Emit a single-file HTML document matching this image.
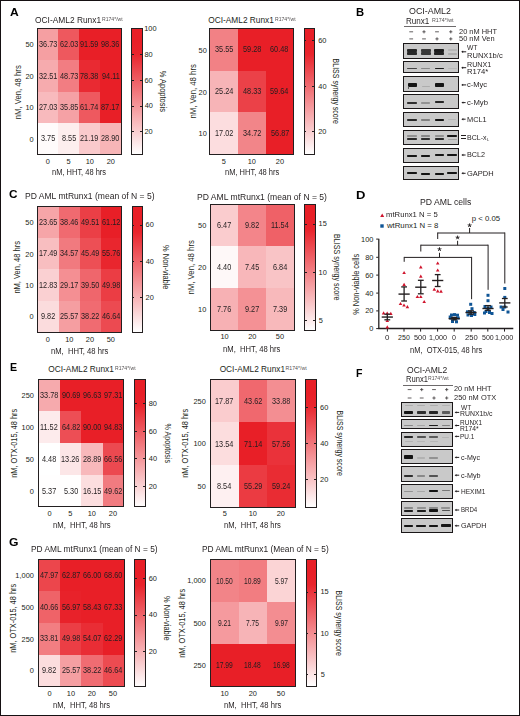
<!DOCTYPE html>
<html><head><meta charset="utf-8"><style>
html,body{margin:0;padding:0;background:#fff;}
body{width:520px;height:716px;position:relative;overflow:hidden;font-family:"Liberation Sans",sans-serif;color:#231f20;}
.t{position:absolute;white-space:nowrap;line-height:1;transform-origin:0 50%;}
.b{position:absolute;}
#frame{position:absolute;left:0;top:0;width:520px;height:716px;box-sizing:border-box;border:1px solid #151012;}
</style></head><body>
<div class="t" style="left:9.50px;top:6.17px;font-size:11.60px;font-weight:bold;color:#000;transform:scaleX(1.042);">A</div>
<div class="b" style="left:37.30px;top:28.95px;width:21.22px;height:31.64px;background:rgb(245,159,162);"></div>
<div class="b" style="left:58.22px;top:28.95px;width:21.22px;height:31.64px;background:rgb(238,88,94);"></div>
<div class="b" style="left:79.15px;top:28.95px;width:21.22px;height:31.64px;background:rgb(232,31,39);"></div>
<div class="b" style="left:100.08px;top:28.95px;width:21.22px;height:31.64px;background:rgb(232,31,39);"></div>
<div class="b" style="left:37.30px;top:60.29px;width:21.22px;height:31.64px;background:rgb(246,171,174);"></div>
<div class="b" style="left:58.22px;top:60.29px;width:21.22px;height:31.64px;background:rgb(242,125,130);"></div>
<div class="b" style="left:79.15px;top:60.29px;width:21.22px;height:31.64px;background:rgb(233,42,50);"></div>
<div class="b" style="left:100.08px;top:60.29px;width:21.22px;height:31.64px;background:rgb(232,31,39);"></div>
<div class="b" style="left:37.30px;top:91.62px;width:21.22px;height:31.64px;background:rgb(248,186,189);"></div>
<div class="b" style="left:58.22px;top:91.62px;width:21.22px;height:31.64px;background:rgb(245,161,165);"></div>
<div class="b" style="left:79.15px;top:91.62px;width:21.22px;height:31.64px;background:rgb(238,89,95);"></div>
<div class="b" style="left:100.08px;top:91.62px;width:21.22px;height:31.64px;background:rgb(232,31,39);"></div>
<div class="b" style="left:37.30px;top:122.96px;width:21.22px;height:31.64px;background:rgb(255,251,251);"></div>
<div class="b" style="left:58.22px;top:122.96px;width:21.22px;height:31.64px;background:rgb(253,238,238);"></div>
<div class="b" style="left:79.15px;top:122.96px;width:21.22px;height:31.64px;background:rgb(250,202,204);"></div>
<div class="b" style="left:100.08px;top:122.96px;width:21.22px;height:31.64px;background:rgb(247,181,183);"></div>
<div class="b" style="left:36.70px;top:28.35px;width:84.90px;height:126.55px;border:1.2px solid #231f20;box-sizing:border-box;"></div>
<div class="t" style="left:38.64px;top:39.99px;font-size:8.60px;transform:scaleX(0.850);">36.73</div>
<div class="t" style="left:59.51px;top:39.99px;font-size:8.60px;transform:scaleX(0.850);">62.03</div>
<div class="t" style="left:80.47px;top:39.99px;font-size:8.60px;transform:scaleX(0.850);">91.59</div>
<div class="t" style="left:101.38px;top:39.99px;font-size:8.60px;transform:scaleX(0.850);">98.36</div>
<div class="t" style="left:38.66px;top:71.53px;font-size:8.60px;transform:scaleX(0.850);">32.51</div>
<div class="t" style="left:59.62px;top:71.53px;font-size:8.60px;transform:scaleX(0.850);">48.73</div>
<div class="t" style="left:80.44px;top:71.53px;font-size:8.60px;transform:scaleX(0.850);">78.38</div>
<div class="t" style="left:101.67px;top:71.53px;font-size:8.60px;transform:scaleX(0.850);">94.11</div>
<div class="t" style="left:38.59px;top:102.67px;font-size:8.60px;transform:scaleX(0.850);">27.03</div>
<div class="t" style="left:59.57px;top:102.67px;font-size:8.60px;transform:scaleX(0.850);">35.85</div>
<div class="t" style="left:80.38px;top:102.67px;font-size:8.60px;transform:scaleX(0.850);">61.74</div>
<div class="t" style="left:101.44px;top:102.67px;font-size:8.60px;transform:scaleX(0.850);">87.17</div>
<div class="t" style="left:40.67px;top:134.01px;font-size:8.60px;transform:scaleX(0.850);">3.75</div>
<div class="t" style="left:61.58px;top:134.01px;font-size:8.60px;transform:scaleX(0.850);">8.55</div>
<div class="t" style="left:80.46px;top:134.01px;font-size:8.60px;transform:scaleX(0.850);">21.19</div>
<div class="t" style="left:101.35px;top:134.01px;font-size:8.60px;transform:scaleX(0.850);">28.90</div>
<div class="t" style="left:35.42px;top:15.83px;font-size:8.30px;transform:scaleX(1.010);">OCI-AML2 Runx1</div>
<div class="t" style="left:101.79px;top:16.53px;font-size:5.20px;color:#555152;transform:scaleX(0.983);">R174*/wt</div>
<div class="t" style="left:25.45px;top:41.30px;font-size:7.40px;">50</div>
<div class="t" style="left:25.44px;top:72.63px;font-size:7.40px;">20</div>
<div class="t" style="left:25.45px;top:103.97px;font-size:7.40px;">10</div>
<div class="t" style="left:29.55px;top:135.51px;font-size:7.40px;">0</div>
<div class="t" style="left:45.83px;top:157.68px;font-size:7.40px;">0</div>
<div class="t" style="left:66.45px;top:157.68px;font-size:7.40px;">5</div>
<div class="t" style="left:85.74px;top:157.68px;font-size:7.40px;">10</div>
<div class="t" style="left:106.64px;top:157.68px;font-size:7.40px;">20</div>
<div class="t" style="left:51.81px;top:168.07px;font-size:8.40px;transform:scaleX(0.894);">nM, HHT, 48 hrs</div>
<div class="t" style="left:-11.52px;top:87.52px;font-size:8.60px;width:60.23px;transform-origin:50% 50%;transform:rotate(-90deg) scaleX(0.899);">nM, Ven, 48 hrs</div>
<div class="b" style="left:131.60px;top:28.90px;width:10.35px;height:125.40px;background:linear-gradient(to top, rgb(255,255,255) 0%, rgb(252,228,229) 10%, rgb(249,200,202) 20%, rgb(247,173,176) 30%, rgb(244,146,150) 40%, rgb(241,118,123) 50%, rgb(238,91,97) 60%, rgb(235,64,71) 70%, rgb(233,36,44) 80%, rgb(232,31,39) 90%, rgb(232,31,39) 100%);"></div>
<div class="b" style="left:131.00px;top:28.30px;width:11.55px;height:126.60px;border:1.2px solid #231f20;box-sizing:border-box;"></div>
<div class="b" style="left:131.60px;top:28.40px;width:2.00px;height:1.00px;background:#231f20;"></div>
<div class="b" style="left:139.95px;top:28.40px;width:2.00px;height:1.00px;background:#231f20;"></div>
<div class="t" style="left:144.25px;top:25.18px;font-size:7.40px;">100</div>
<div class="b" style="left:131.60px;top:54.10px;width:2.00px;height:1.00px;background:#231f20;"></div>
<div class="b" style="left:139.95px;top:54.10px;width:2.00px;height:1.00px;background:#231f20;"></div>
<div class="t" style="left:144.50px;top:50.88px;font-size:7.40px;">80</div>
<div class="b" style="left:131.60px;top:79.90px;width:2.00px;height:1.00px;background:#231f20;"></div>
<div class="b" style="left:139.95px;top:79.90px;width:2.00px;height:1.00px;background:#231f20;"></div>
<div class="t" style="left:144.43px;top:76.68px;font-size:7.40px;">60</div>
<div class="b" style="left:131.60px;top:105.50px;width:2.00px;height:1.00px;background:#231f20;"></div>
<div class="b" style="left:139.95px;top:105.50px;width:2.00px;height:1.00px;background:#231f20;"></div>
<div class="t" style="left:144.65px;top:102.28px;font-size:7.40px;">40</div>
<div class="b" style="left:131.60px;top:131.20px;width:2.00px;height:1.00px;background:#231f20;"></div>
<div class="b" style="left:139.95px;top:131.20px;width:2.00px;height:1.00px;background:#231f20;"></div>
<div class="t" style="left:144.43px;top:127.98px;font-size:7.40px;">20</div>
<div class="t" style="left:139.13px;top:87.49px;font-size:8.60px;width:47.33px;transform-origin:50% 50%;transform:rotate(90deg) scaleX(0.873);">% Apoptosis</div>
<div class="b" style="left:210.00px;top:28.90px;width:28.17px;height:42.03px;background:rgb(242,129,133);"></div>
<div class="b" style="left:237.87px;top:28.90px;width:28.17px;height:42.03px;background:rgb(232,31,39);"></div>
<div class="b" style="left:265.73px;top:28.90px;width:28.17px;height:42.03px;background:rgb(232,31,39);"></div>
<div class="b" style="left:210.00px;top:70.63px;width:28.17px;height:42.03px;background:rgb(247,180,183);"></div>
<div class="b" style="left:237.87px;top:70.63px;width:28.17px;height:42.03px;background:rgb(235,65,72);"></div>
<div class="b" style="left:265.73px;top:70.63px;width:28.17px;height:42.03px;background:rgb(232,31,39);"></div>
<div class="b" style="left:210.00px;top:112.37px;width:28.17px;height:42.03px;background:rgb(252,221,223);"></div>
<div class="b" style="left:237.87px;top:112.37px;width:28.17px;height:42.03px;background:rgb(242,133,137);"></div>
<div class="b" style="left:265.73px;top:112.37px;width:28.17px;height:42.03px;background:rgb(232,31,39);"></div>
<div class="b" style="left:209.40px;top:28.30px;width:84.80px;height:126.40px;border:1.2px solid #231f20;box-sizing:border-box;"></div>
<div class="t" style="left:214.81px;top:45.14px;font-size:8.60px;transform:scaleX(0.850);">35.55</div>
<div class="t" style="left:242.66px;top:45.14px;font-size:8.60px;transform:scaleX(0.850);">59.28</div>
<div class="t" style="left:270.49px;top:45.14px;font-size:8.60px;transform:scaleX(0.850);">60.48</div>
<div class="t" style="left:214.70px;top:86.87px;font-size:8.60px;transform:scaleX(0.850);">25.24</div>
<div class="t" style="left:242.74px;top:86.87px;font-size:8.60px;transform:scaleX(0.850);">48.33</div>
<div class="t" style="left:270.47px;top:86.87px;font-size:8.60px;transform:scaleX(0.850);">59.64</div>
<div class="t" style="left:214.70px;top:128.61px;font-size:8.60px;transform:scaleX(0.850);">17.02</div>
<div class="t" style="left:242.72px;top:128.61px;font-size:8.60px;transform:scaleX(0.850);">34.72</div>
<div class="t" style="left:270.57px;top:128.61px;font-size:8.60px;transform:scaleX(0.850);">56.87</div>
<div class="t" style="left:208.32px;top:16.33px;font-size:8.30px;">OCI-AML2 Runx1</div>
<div class="t" style="left:274.59px;top:16.53px;font-size:5.20px;color:#555152;transform:scaleX(0.978);">R174*/wt</div>
<div class="t" style="left:198.55px;top:46.64px;font-size:7.40px;">50</div>
<div class="t" style="left:198.54px;top:88.53px;font-size:7.40px;">20</div>
<div class="t" style="left:198.54px;top:130.11px;font-size:7.40px;">10</div>
<div class="t" style="left:221.75px;top:157.58px;font-size:7.40px;">5</div>
<div class="t" style="left:247.65px;top:157.58px;font-size:7.40px;">10</div>
<div class="t" style="left:275.84px;top:157.58px;font-size:7.40px;">20</div>
<div class="t" style="left:224.71px;top:167.77px;font-size:8.40px;transform:scaleX(0.897);">nM, HHT, 48 hrs</div>
<div class="t" style="left:162.88px;top:87.02px;font-size:8.60px;width:60.23px;transform-origin:50% 50%;transform:rotate(-90deg) scaleX(0.904);">nM, Ven, 48 hrs</div>
<div class="b" style="left:304.40px;top:28.80px;width:10.00px;height:125.30px;background:linear-gradient(to top, rgb(255,255,255) 0%, rgb(252,228,229) 10%, rgb(249,200,202) 20%, rgb(247,173,176) 30%, rgb(244,146,150) 40%, rgb(241,118,123) 50%, rgb(238,91,97) 60%, rgb(235,64,71) 70%, rgb(233,36,44) 80%, rgb(232,31,39) 90%, rgb(232,31,39) 100%);"></div>
<div class="b" style="left:303.80px;top:28.20px;width:11.20px;height:126.50px;border:1.2px solid #231f20;box-sizing:border-box;"></div>
<div class="b" style="left:304.40px;top:39.60px;width:2.00px;height:1.00px;background:#231f20;"></div>
<div class="b" style="left:312.40px;top:39.60px;width:2.00px;height:1.00px;background:#231f20;"></div>
<div class="t" style="left:318.13px;top:36.53px;font-size:7.40px;">60</div>
<div class="b" style="left:304.40px;top:85.70px;width:2.00px;height:1.00px;background:#231f20;"></div>
<div class="b" style="left:312.40px;top:85.70px;width:2.00px;height:1.00px;background:#231f20;"></div>
<div class="t" style="left:318.35px;top:82.53px;font-size:7.40px;">40</div>
<div class="b" style="left:304.40px;top:131.30px;width:2.00px;height:1.00px;background:#231f20;"></div>
<div class="b" style="left:312.40px;top:131.30px;width:2.00px;height:1.00px;background:#231f20;"></div>
<div class="t" style="left:318.13px;top:128.08px;font-size:7.40px;">20</div>
<div class="t" style="left:296.05px;top:86.97px;font-size:8.60px;width:80.30px;transform-origin:50% 50%;transform:rotate(90deg) scaleX(0.814);">BLISS synergy score</div>
<div class="t" style="left:9.03px;top:188.52px;font-size:11.30px;font-weight:bold;color:#000;transform:scaleX(1.040);">C</div>
<div class="b" style="left:37.50px;top:206.65px;width:21.30px;height:31.71px;background:rgb(246,165,168);"></div>
<div class="b" style="left:58.50px;top:206.65px;width:21.30px;height:31.71px;background:rgb(240,106,112);"></div>
<div class="b" style="left:79.50px;top:206.65px;width:21.30px;height:31.71px;background:rgb(235,63,70);"></div>
<div class="b" style="left:100.50px;top:206.65px;width:21.30px;height:31.71px;background:rgb(232,31,39);"></div>
<div class="b" style="left:37.50px;top:238.06px;width:21.30px;height:31.71px;background:rgb(248,190,192);"></div>
<div class="b" style="left:58.50px;top:238.06px;width:21.30px;height:31.71px;background:rgb(241,122,127);"></div>
<div class="b" style="left:79.50px;top:238.06px;width:21.30px;height:31.71px;background:rgb(237,79,85);"></div>
<div class="b" style="left:100.50px;top:238.06px;width:21.30px;height:31.71px;background:rgb(233,38,46);"></div>
<div class="b" style="left:37.50px;top:269.48px;width:21.30px;height:31.71px;background:rgb(250,208,210);"></div>
<div class="b" style="left:58.50px;top:269.48px;width:21.30px;height:31.71px;background:rgb(244,143,147);"></div>
<div class="b" style="left:79.50px;top:269.48px;width:21.30px;height:31.71px;background:rgb(239,102,108);"></div>
<div class="b" style="left:100.50px;top:269.48px;width:21.30px;height:31.71px;background:rgb(235,61,68);"></div>
<div class="b" style="left:37.50px;top:300.89px;width:21.30px;height:31.71px;background:rgb(251,220,221);"></div>
<div class="b" style="left:58.50px;top:300.89px;width:21.30px;height:31.71px;background:rgb(245,158,161);"></div>
<div class="b" style="left:79.50px;top:300.89px;width:21.30px;height:31.71px;background:rgb(240,107,113);"></div>
<div class="b" style="left:100.50px;top:300.89px;width:21.30px;height:31.71px;background:rgb(236,74,81);"></div>
<div class="b" style="left:36.90px;top:206.05px;width:85.20px;height:126.85px;border:1.2px solid #231f20;box-sizing:border-box;"></div>
<div class="t" style="left:38.83px;top:217.73px;font-size:8.60px;transform:scaleX(0.850);">23.65</div>
<div class="t" style="left:59.88px;top:217.73px;font-size:8.60px;transform:scaleX(0.850);">38.46</div>
<div class="t" style="left:80.95px;top:217.73px;font-size:8.60px;transform:scaleX(0.850);">49.51</div>
<div class="t" style="left:101.86px;top:217.73px;font-size:8.60px;transform:scaleX(0.850);">61.12</div>
<div class="t" style="left:38.75px;top:249.14px;font-size:8.60px;transform:scaleX(0.850);">17.49</div>
<div class="t" style="left:59.92px;top:249.14px;font-size:8.60px;transform:scaleX(0.850);">34.57</div>
<div class="t" style="left:80.95px;top:249.14px;font-size:8.60px;transform:scaleX(0.850);">45.49</div>
<div class="t" style="left:101.86px;top:249.14px;font-size:8.60px;transform:scaleX(0.850);">55.76</div>
<div class="t" style="left:38.73px;top:280.56px;font-size:8.60px;transform:scaleX(0.850);">12.83</div>
<div class="t" style="left:59.86px;top:280.56px;font-size:8.60px;transform:scaleX(0.850);">29.17</div>
<div class="t" style="left:80.86px;top:280.56px;font-size:8.60px;transform:scaleX(0.850);">39.50</div>
<div class="t" style="left:101.94px;top:280.56px;font-size:8.60px;transform:scaleX(0.850);">49.98</div>
<div class="t" style="left:40.91px;top:311.97px;font-size:8.60px;transform:scaleX(0.850);">9.82</div>
<div class="t" style="left:59.86px;top:311.97px;font-size:8.60px;transform:scaleX(0.850);">25.57</div>
<div class="t" style="left:80.92px;top:311.97px;font-size:8.60px;transform:scaleX(0.850);">38.22</div>
<div class="t" style="left:101.88px;top:311.97px;font-size:8.60px;transform:scaleX(0.850);">46.64</div>
<div class="t" style="left:24.72px;top:192.23px;font-size:8.30px;transform:scaleX(1.030);">PD AML mtRunx1 (mean of N = 5)</div>
<div class="t" style="left:25.34px;top:219.03px;font-size:7.40px;">50</div>
<div class="t" style="left:25.34px;top:250.55px;font-size:7.40px;">20</div>
<div class="t" style="left:25.34px;top:281.86px;font-size:7.40px;">10</div>
<div class="t" style="left:29.45px;top:313.27px;font-size:7.40px;">0</div>
<div class="t" style="left:45.63px;top:335.53px;font-size:7.40px;">0</div>
<div class="t" style="left:65.14px;top:335.53px;font-size:7.40px;">10</div>
<div class="t" style="left:85.84px;top:335.53px;font-size:7.40px;">20</div>
<div class="t" style="left:106.67px;top:335.53px;font-size:7.40px;">50</div>
<div class="t" style="left:50.70px;top:346.97px;font-size:8.40px;transform:scaleX(0.912);">nM,&nbsp; HHT, 48 hrs</div>
<div class="t" style="left:-13.32px;top:263.12px;font-size:8.60px;width:60.23px;transform-origin:50% 50%;transform:rotate(-90deg) scaleX(0.872);">nM, Ven, 48 hrs</div>
<div class="b" style="left:132.10px;top:206.80px;width:10.25px;height:125.50px;background:linear-gradient(to top, rgb(255,255,255) 0%, rgb(252,228,229) 10%, rgb(249,200,202) 20%, rgb(247,173,176) 30%, rgb(244,146,150) 40%, rgb(241,118,123) 50%, rgb(238,91,97) 60%, rgb(235,64,71) 70%, rgb(233,36,44) 80%, rgb(232,31,39) 90%, rgb(232,31,39) 100%);"></div>
<div class="b" style="left:131.50px;top:206.20px;width:11.45px;height:126.70px;border:1.2px solid #231f20;box-sizing:border-box;"></div>
<div class="b" style="left:132.10px;top:224.50px;width:2.00px;height:1.00px;background:#231f20;"></div>
<div class="b" style="left:140.35px;top:224.50px;width:2.00px;height:1.00px;background:#231f20;"></div>
<div class="t" style="left:145.53px;top:221.28px;font-size:7.40px;">60</div>
<div class="b" style="left:132.10px;top:261.00px;width:2.00px;height:1.00px;background:#231f20;"></div>
<div class="b" style="left:140.35px;top:261.00px;width:2.00px;height:1.00px;background:#231f20;"></div>
<div class="t" style="left:145.75px;top:257.78px;font-size:7.40px;">40</div>
<div class="b" style="left:132.10px;top:297.10px;width:2.00px;height:1.00px;background:#231f20;"></div>
<div class="b" style="left:140.35px;top:297.10px;width:2.00px;height:1.00px;background:#231f20;"></div>
<div class="t" style="left:145.53px;top:293.88px;font-size:7.40px;">20</div>
<div class="t" style="left:140.23px;top:262.63px;font-size:8.60px;width:51.15px;transform-origin:50% 50%;transform:rotate(90deg) scaleX(0.870);">% Non-viable</div>
<div class="b" style="left:210.40px;top:204.60px;width:28.17px;height:42.10px;background:rgb(250,204,206);"></div>
<div class="b" style="left:238.27px;top:204.60px;width:28.17px;height:42.10px;background:rgb(243,133,138);"></div>
<div class="b" style="left:266.13px;top:204.60px;width:28.17px;height:42.10px;background:rgb(239,97,103);"></div>
<div class="b" style="left:210.40px;top:246.40px;width:28.17px;height:42.10px;background:rgb(254,248,248);"></div>
<div class="b" style="left:238.27px;top:246.40px;width:28.17px;height:42.10px;background:rgb(248,183,186);"></div>
<div class="b" style="left:266.13px;top:246.40px;width:28.17px;height:42.10px;background:rgb(249,196,198);"></div>
<div class="b" style="left:210.40px;top:288.20px;width:28.17px;height:42.10px;background:rgb(247,177,180);"></div>
<div class="b" style="left:238.27px;top:288.20px;width:28.17px;height:42.10px;background:rgb(244,145,149);"></div>
<div class="b" style="left:266.13px;top:288.20px;width:28.17px;height:42.10px;background:rgb(248,185,187);"></div>
<div class="b" style="left:209.80px;top:204.00px;width:84.80px;height:126.60px;border:1.2px solid #231f20;box-sizing:border-box;"></div>
<div class="t" style="left:217.22px;top:220.87px;font-size:8.60px;transform:scaleX(0.850);">6.47</div>
<div class="t" style="left:245.11px;top:220.87px;font-size:8.60px;transform:scaleX(0.850);">9.82</div>
<div class="t" style="left:271.02px;top:220.87px;font-size:8.60px;transform:scaleX(0.850);">11.54</div>
<div class="t" style="left:217.28px;top:262.67px;font-size:8.60px;transform:scaleX(0.850);">4.40</div>
<div class="t" style="left:245.05px;top:262.67px;font-size:8.60px;transform:scaleX(0.850);">7.45</div>
<div class="t" style="left:272.87px;top:262.67px;font-size:8.60px;transform:scaleX(0.850);">6.84</div>
<div class="t" style="left:217.19px;top:304.52px;font-size:8.60px;transform:scaleX(0.850);">7.76</div>
<div class="t" style="left:245.11px;top:304.52px;font-size:8.60px;transform:scaleX(0.850);">9.27</div>
<div class="t" style="left:272.94px;top:304.52px;font-size:8.60px;transform:scaleX(0.850);">7.39</div>
<div class="t" style="left:197.31px;top:192.53px;font-size:8.30px;transform:scaleX(1.033);">PD AML mtRunx1 (mean of N = 5)</div>
<div class="t" style="left:198.05px;top:222.18px;font-size:7.40px;">50</div>
<div class="t" style="left:198.04px;top:263.98px;font-size:7.40px;">20</div>
<div class="t" style="left:198.04px;top:305.78px;font-size:7.40px;">10</div>
<div class="t" style="left:220.44px;top:333.18px;font-size:7.40px;">10</div>
<div class="t" style="left:248.24px;top:333.18px;font-size:7.40px;">20</div>
<div class="t" style="left:275.87px;top:333.18px;font-size:7.40px;">50</div>
<div class="t" style="left:223.30px;top:345.07px;font-size:8.40px;transform:scaleX(0.914);">nM,&nbsp; HHT, 48 hrs</div>
<div class="t" style="left:161.18px;top:263.02px;font-size:8.60px;width:60.23px;transform-origin:50% 50%;transform:rotate(-90deg) scaleX(0.903);">nM, Ven, 48 hrs</div>
<div class="b" style="left:304.60px;top:204.60px;width:10.30px;height:125.40px;background:linear-gradient(to top, rgb(255,255,255) 0%, rgb(252,228,229) 10%, rgb(249,200,202) 20%, rgb(247,173,176) 30%, rgb(244,146,150) 40%, rgb(241,118,123) 50%, rgb(238,91,97) 60%, rgb(235,64,71) 70%, rgb(233,36,44) 80%, rgb(232,31,39) 90%, rgb(232,31,39) 100%);"></div>
<div class="b" style="left:304.00px;top:204.00px;width:11.50px;height:126.60px;border:1.2px solid #231f20;box-sizing:border-box;"></div>
<div class="b" style="left:304.60px;top:223.50px;width:2.00px;height:1.00px;background:#231f20;"></div>
<div class="b" style="left:312.90px;top:223.50px;width:2.00px;height:1.00px;background:#231f20;"></div>
<div class="t" style="left:318.55px;top:220.28px;font-size:7.40px;">15</div>
<div class="b" style="left:304.60px;top:271.60px;width:2.00px;height:1.00px;background:#231f20;"></div>
<div class="b" style="left:312.90px;top:271.60px;width:2.00px;height:1.00px;background:#231f20;"></div>
<div class="t" style="left:318.55px;top:268.53px;font-size:7.40px;">10</div>
<div class="b" style="left:304.60px;top:320.30px;width:2.00px;height:1.00px;background:#231f20;"></div>
<div class="b" style="left:312.90px;top:320.30px;width:2.00px;height:1.00px;background:#231f20;"></div>
<div class="t" style="left:318.80px;top:317.08px;font-size:7.40px;">5</div>
<div class="t" style="left:297.15px;top:262.97px;font-size:8.60px;width:80.30px;transform-origin:50% 50%;transform:rotate(90deg) scaleX(0.828);">BLISS synergy score</div>
<div class="t" style="left:9.61px;top:361.52px;font-size:11.30px;font-weight:bold;color:#000;transform:scaleX(0.940);">E</div>
<div class="b" style="left:38.75px;top:379.45px;width:21.56px;height:32.14px;background:rgb(246,170,173);"></div>
<div class="b" style="left:60.01px;top:379.45px;width:21.56px;height:32.14px;background:rgb(232,31,39);"></div>
<div class="b" style="left:81.28px;top:379.45px;width:21.56px;height:32.14px;background:rgb(232,31,39);"></div>
<div class="b" style="left:102.54px;top:379.45px;width:21.56px;height:32.14px;background:rgb(232,31,39);"></div>
<div class="b" style="left:38.75px;top:411.29px;width:21.56px;height:32.14px;background:rgb(253,235,236);"></div>
<div class="b" style="left:60.01px;top:411.29px;width:21.56px;height:32.14px;background:rgb(237,78,85);"></div>
<div class="b" style="left:81.28px;top:411.29px;width:21.56px;height:32.14px;background:rgb(232,31,39);"></div>
<div class="b" style="left:102.54px;top:411.29px;width:21.56px;height:32.14px;background:rgb(232,31,39);"></div>
<div class="b" style="left:38.75px;top:443.12px;width:21.56px;height:32.14px;background:rgb(255,255,255);"></div>
<div class="b" style="left:60.01px;top:443.12px;width:21.56px;height:32.14px;background:rgb(252,230,231);"></div>
<div class="b" style="left:81.28px;top:443.12px;width:21.56px;height:32.14px;background:rgb(248,184,187);"></div>
<div class="b" style="left:102.54px;top:443.12px;width:21.56px;height:32.14px;background:rgb(236,73,80);"></div>
<div class="b" style="left:38.75px;top:474.96px;width:21.56px;height:32.14px;background:rgb(255,254,254);"></div>
<div class="b" style="left:60.01px;top:474.96px;width:21.56px;height:32.14px;background:rgb(255,254,254);"></div>
<div class="b" style="left:81.28px;top:474.96px;width:21.56px;height:32.14px;background:rgb(252,222,223);"></div>
<div class="b" style="left:102.54px;top:474.96px;width:21.56px;height:32.14px;background:rgb(241,123,128);"></div>
<div class="b" style="left:38.15px;top:378.85px;width:86.25px;height:128.55px;border:1.2px solid #231f20;box-sizing:border-box;"></div>
<div class="t" style="left:40.26px;top:390.74px;font-size:8.60px;transform:scaleX(0.850);">33.78</div>
<div class="t" style="left:61.51px;top:390.74px;font-size:8.60px;transform:scaleX(0.850);">90.69</div>
<div class="t" style="left:82.75px;top:390.74px;font-size:8.60px;transform:scaleX(0.850);">96.63</div>
<div class="t" style="left:104.03px;top:390.74px;font-size:8.60px;transform:scaleX(0.850);">97.31</div>
<div class="t" style="left:40.43px;top:422.58px;font-size:8.60px;transform:scaleX(0.850);">11.52</div>
<div class="t" style="left:61.51px;top:422.58px;font-size:8.60px;transform:scaleX(0.850);">64.82</div>
<div class="t" style="left:82.73px;top:422.58px;font-size:8.60px;transform:scaleX(0.850);">90.00</div>
<div class="t" style="left:104.01px;top:422.58px;font-size:8.60px;transform:scaleX(0.850);">94.83</div>
<div class="t" style="left:42.35px;top:454.52px;font-size:8.60px;transform:scaleX(0.850);">4.48</div>
<div class="t" style="left:61.38px;top:454.52px;font-size:8.60px;transform:scaleX(0.850);">13.26</div>
<div class="t" style="left:82.75px;top:454.52px;font-size:8.60px;transform:scaleX(0.850);">28.89</div>
<div class="t" style="left:103.99px;top:454.52px;font-size:8.60px;transform:scaleX(0.850);">66.56</div>
<div class="t" style="left:42.31px;top:486.51px;font-size:8.60px;transform:scaleX(0.850);">5.37</div>
<div class="t" style="left:63.52px;top:486.51px;font-size:8.60px;transform:scaleX(0.850);">5.30</div>
<div class="t" style="left:82.64px;top:486.51px;font-size:8.60px;transform:scaleX(0.850);">16.15</div>
<div class="t" style="left:104.14px;top:486.51px;font-size:8.60px;transform:scaleX(0.850);">49.62</div>
<div class="t" style="left:48.33px;top:365.03px;font-size:8.30px;">OCI-AML2 Runx1</div>
<div class="t" style="left:114.69px;top:365.53px;font-size:5.20px;color:#555152;transform:scaleX(0.978);">R174*/wt</div>
<div class="t" style="left:21.54px;top:391.95px;font-size:7.40px;">250</div>
<div class="t" style="left:21.54px;top:423.78px;font-size:7.40px;">100</div>
<div class="t" style="left:25.65px;top:455.62px;font-size:7.40px;">50</div>
<div class="t" style="left:29.75px;top:487.51px;font-size:7.40px;">0</div>
<div class="t" style="left:47.43px;top:509.88px;font-size:7.40px;">0</div>
<div class="t" style="left:68.25px;top:509.88px;font-size:7.40px;">5</div>
<div class="t" style="left:87.64px;top:509.88px;font-size:7.40px;">10</div>
<div class="t" style="left:108.84px;top:509.88px;font-size:7.40px;">20</div>
<div class="t" style="left:52.50px;top:520.57px;font-size:8.40px;transform:scaleX(0.917);">nM,&nbsp; HHT, 48 hrs</div>
<div class="t" style="left:-25.65px;top:438.80px;font-size:8.60px;width:80.30px;transform-origin:50% 50%;transform:rotate(-90deg) scaleX(0.859);">nM, OTX-015, 48 hrs</div>
<div class="b" style="left:134.60px;top:379.60px;width:10.40px;height:127.20px;background:linear-gradient(to top, rgb(255,255,255) 0%, rgb(252,228,229) 10%, rgb(249,200,202) 20%, rgb(247,173,176) 30%, rgb(244,146,150) 40%, rgb(241,118,123) 50%, rgb(238,91,97) 60%, rgb(235,64,71) 70%, rgb(233,36,44) 80%, rgb(232,31,39) 90%, rgb(232,31,39) 100%);"></div>
<div class="b" style="left:134.00px;top:379.00px;width:11.60px;height:128.40px;border:1.2px solid #231f20;box-sizing:border-box;"></div>
<div class="b" style="left:134.60px;top:403.20px;width:2.00px;height:1.00px;background:#231f20;"></div>
<div class="b" style="left:143.00px;top:403.20px;width:2.00px;height:1.00px;background:#231f20;"></div>
<div class="t" style="left:148.70px;top:399.98px;font-size:7.40px;">80</div>
<div class="b" style="left:134.60px;top:430.70px;width:2.00px;height:1.00px;background:#231f20;"></div>
<div class="b" style="left:143.00px;top:430.70px;width:2.00px;height:1.00px;background:#231f20;"></div>
<div class="t" style="left:148.63px;top:427.53px;font-size:7.40px;">60</div>
<div class="b" style="left:134.60px;top:457.90px;width:2.00px;height:1.00px;background:#231f20;"></div>
<div class="b" style="left:143.00px;top:457.90px;width:2.00px;height:1.00px;background:#231f20;"></div>
<div class="t" style="left:148.85px;top:454.68px;font-size:7.40px;">40</div>
<div class="b" style="left:134.60px;top:485.60px;width:2.00px;height:1.00px;background:#231f20;"></div>
<div class="b" style="left:143.00px;top:485.60px;width:2.00px;height:1.00px;background:#231f20;"></div>
<div class="t" style="left:148.63px;top:482.53px;font-size:7.40px;">20</div>
<div class="t" style="left:144.33px;top:439.19px;font-size:8.60px;width:47.33px;transform-origin:50% 50%;transform:rotate(90deg) scaleX(0.841);">% Apoptosis</div>
<div class="b" style="left:210.30px;top:379.60px;width:28.70px;height:42.90px;background:rgb(250,204,206);"></div>
<div class="b" style="left:238.70px;top:379.60px;width:28.70px;height:42.90px;background:rgb(240,104,110);"></div>
<div class="b" style="left:267.10px;top:379.60px;width:28.70px;height:42.90px;background:rgb(243,142,146);"></div>
<div class="b" style="left:210.30px;top:422.20px;width:28.70px;height:42.90px;background:rgb(252,221,222);"></div>
<div class="b" style="left:238.70px;top:422.20px;width:28.70px;height:42.90px;background:rgb(232,31,39);"></div>
<div class="b" style="left:267.10px;top:422.20px;width:28.70px;height:42.90px;background:rgb(234,50,58);"></div>
<div class="b" style="left:210.30px;top:464.80px;width:28.70px;height:42.90px;background:rgb(254,240,241);"></div>
<div class="b" style="left:238.70px;top:464.80px;width:28.70px;height:42.90px;background:rgb(235,59,66);"></div>
<div class="b" style="left:267.10px;top:464.80px;width:28.70px;height:42.90px;background:rgb(233,44,51);"></div>
<div class="b" style="left:209.70px;top:379.00px;width:86.40px;height:129.00px;border:1.2px solid #231f20;box-sizing:border-box;"></div>
<div class="t" style="left:215.27px;top:396.97px;font-size:8.60px;transform:scaleX(0.850);">17.87</div>
<div class="t" style="left:243.87px;top:396.97px;font-size:8.60px;transform:scaleX(0.850);">43.62</div>
<div class="t" style="left:272.18px;top:396.97px;font-size:8.60px;transform:scaleX(0.850);">33.88</div>
<div class="t" style="left:215.18px;top:439.57px;font-size:8.60px;transform:scaleX(0.850);">13.54</div>
<div class="t" style="left:243.67px;top:439.57px;font-size:8.60px;transform:scaleX(0.850);">71.14</div>
<div class="t" style="left:272.16px;top:439.57px;font-size:8.60px;transform:scaleX(0.850);">57.56</div>
<div class="t" style="left:217.34px;top:482.17px;font-size:8.60px;transform:scaleX(0.850);">8.54</div>
<div class="t" style="left:243.78px;top:482.17px;font-size:8.60px;transform:scaleX(0.850);">55.29</div>
<div class="t" style="left:272.11px;top:482.17px;font-size:8.60px;transform:scaleX(0.850);">59.24</div>
<div class="t" style="left:219.63px;top:364.83px;font-size:8.30px;">OCI-AML2 Runx1</div>
<div class="t" style="left:285.58px;top:365.53px;font-size:5.20px;color:#555152;">R174*/wt</div>
<div class="t" style="left:193.44px;top:397.68px;font-size:7.40px;">250</div>
<div class="t" style="left:193.44px;top:440.28px;font-size:7.40px;">100</div>
<div class="t" style="left:197.55px;top:482.88px;font-size:7.40px;">50</div>
<div class="t" style="left:222.65px;top:510.28px;font-size:7.40px;">5</div>
<div class="t" style="left:248.65px;top:510.28px;font-size:7.40px;">10</div>
<div class="t" style="left:276.74px;top:510.28px;font-size:7.40px;">20</div>
<div class="t" style="left:224.21px;top:521.07px;font-size:8.40px;transform:scaleX(0.904);">nM,&nbsp; HHT, 48 hrs</div>
<div class="t" style="left:145.35px;top:438.90px;font-size:8.60px;width:80.30px;transform-origin:50% 50%;transform:rotate(-90deg) scaleX(0.860);">nM, OTX-015, 48 hrs</div>
<div class="b" style="left:306.00px;top:379.90px;width:10.40px;height:127.50px;background:linear-gradient(to top, rgb(255,255,255) 0%, rgb(252,228,229) 10%, rgb(249,200,202) 20%, rgb(247,173,176) 30%, rgb(244,146,150) 40%, rgb(241,118,123) 50%, rgb(238,91,97) 60%, rgb(235,64,71) 70%, rgb(233,36,44) 80%, rgb(232,31,39) 90%, rgb(232,31,39) 100%);"></div>
<div class="b" style="left:305.40px;top:379.30px;width:11.60px;height:128.70px;border:1.2px solid #231f20;box-sizing:border-box;"></div>
<div class="b" style="left:306.00px;top:407.00px;width:2.00px;height:1.00px;background:#231f20;"></div>
<div class="b" style="left:314.40px;top:407.00px;width:2.00px;height:1.00px;background:#231f20;"></div>
<div class="t" style="left:320.03px;top:403.78px;font-size:7.40px;">60</div>
<div class="b" style="left:306.00px;top:443.30px;width:2.00px;height:1.00px;background:#231f20;"></div>
<div class="b" style="left:314.40px;top:443.30px;width:2.00px;height:1.00px;background:#231f20;"></div>
<div class="t" style="left:320.25px;top:440.08px;font-size:7.40px;">40</div>
<div class="b" style="left:306.00px;top:479.40px;width:2.00px;height:1.00px;background:#231f20;"></div>
<div class="b" style="left:314.40px;top:479.40px;width:2.00px;height:1.00px;background:#231f20;"></div>
<div class="t" style="left:320.03px;top:476.18px;font-size:7.40px;">20</div>
<div class="t" style="left:299.85px;top:438.57px;font-size:8.60px;width:80.30px;transform-origin:50% 50%;transform:rotate(90deg) scaleX(0.816);">BLISS synergy score</div>
<div class="t" style="left:9.31px;top:536.52px;font-size:11.30px;font-weight:bold;color:#000;transform:scaleX(1.075);">G</div>
<div class="b" style="left:38.75px;top:559.30px;width:21.61px;height:32.10px;background:rgb(236,70,76);"></div>
<div class="b" style="left:60.06px;top:559.30px;width:21.61px;height:32.10px;background:rgb(232,31,39);"></div>
<div class="b" style="left:81.38px;top:559.30px;width:21.61px;height:32.10px;background:rgb(232,31,39);"></div>
<div class="b" style="left:102.69px;top:559.30px;width:21.61px;height:32.10px;background:rgb(232,31,39);"></div>
<div class="b" style="left:38.75px;top:591.10px;width:21.61px;height:32.10px;background:rgb(239,99,104);"></div>
<div class="b" style="left:60.06px;top:591.10px;width:21.61px;height:32.10px;background:rgb(232,34,42);"></div>
<div class="b" style="left:81.38px;top:591.10px;width:21.61px;height:32.10px;background:rgb(232,31,39);"></div>
<div class="b" style="left:102.69px;top:591.10px;width:21.61px;height:32.10px;background:rgb(232,31,39);"></div>
<div class="b" style="left:38.75px;top:622.90px;width:21.61px;height:32.10px;background:rgb(242,126,130);"></div>
<div class="b" style="left:60.06px;top:622.90px;width:21.61px;height:32.10px;background:rgb(235,62,69);"></div>
<div class="b" style="left:81.38px;top:622.90px;width:21.61px;height:32.10px;background:rgb(233,45,53);"></div>
<div class="b" style="left:102.69px;top:622.90px;width:21.61px;height:32.10px;background:rgb(232,31,39);"></div>
<div class="b" style="left:38.75px;top:654.70px;width:21.61px;height:32.10px;background:rgb(252,221,222);"></div>
<div class="b" style="left:60.06px;top:654.70px;width:21.61px;height:32.10px;background:rgb(245,159,162);"></div>
<div class="b" style="left:81.38px;top:654.70px;width:21.61px;height:32.10px;background:rgb(240,108,114);"></div>
<div class="b" style="left:102.69px;top:654.70px;width:21.61px;height:32.10px;background:rgb(237,75,81);"></div>
<div class="b" style="left:38.15px;top:558.70px;width:86.45px;height:128.40px;border:1.2px solid #231f20;box-sizing:border-box;"></div>
<div class="t" style="left:40.38px;top:570.57px;font-size:8.60px;transform:scaleX(0.850);">47.97</div>
<div class="t" style="left:61.58px;top:570.57px;font-size:8.60px;transform:scaleX(0.850);">62.87</div>
<div class="t" style="left:82.84px;top:570.57px;font-size:8.60px;transform:scaleX(0.850);">66.00</div>
<div class="t" style="left:104.15px;top:570.57px;font-size:8.60px;transform:scaleX(0.850);">68.60</div>
<div class="t" style="left:40.34px;top:602.52px;font-size:8.60px;transform:scaleX(0.850);">40.66</div>
<div class="t" style="left:61.62px;top:602.52px;font-size:8.60px;transform:scaleX(0.850);">56.97</div>
<div class="t" style="left:82.89px;top:602.52px;font-size:8.60px;transform:scaleX(0.850);">58.43</div>
<div class="t" style="left:104.17px;top:602.52px;font-size:8.60px;transform:scaleX(0.850);">67.33</div>
<div class="t" style="left:40.31px;top:634.17px;font-size:8.60px;transform:scaleX(0.850);">33.81</div>
<div class="t" style="left:61.65px;top:634.17px;font-size:8.60px;transform:scaleX(0.850);">49.98</div>
<div class="t" style="left:82.93px;top:634.17px;font-size:8.60px;transform:scaleX(0.850);">54.07</div>
<div class="t" style="left:104.19px;top:634.17px;font-size:8.60px;transform:scaleX(0.850);">62.29</div>
<div class="t" style="left:42.32px;top:665.97px;font-size:8.60px;transform:scaleX(0.850);">9.82</div>
<div class="t" style="left:61.58px;top:665.97px;font-size:8.60px;transform:scaleX(0.850);">25.57</div>
<div class="t" style="left:82.95px;top:665.97px;font-size:8.60px;transform:scaleX(0.850);">38.22</div>
<div class="t" style="left:104.22px;top:665.97px;font-size:8.60px;transform:scaleX(0.850);">46.64</div>
<div class="t" style="left:30.83px;top:544.53px;font-size:8.30px;transform:scaleX(1.006);">PD AML mtRunx1 (mean of N = 5)</div>
<div class="t" style="left:15.36px;top:571.88px;font-size:7.40px;">1,000</div>
<div class="t" style="left:21.54px;top:603.68px;font-size:7.40px;">500</div>
<div class="t" style="left:21.54px;top:635.53px;font-size:7.40px;">250</div>
<div class="t" style="left:29.75px;top:667.28px;font-size:7.40px;">0</div>
<div class="t" style="left:47.43px;top:689.53px;font-size:7.40px;">0</div>
<div class="t" style="left:66.84px;top:689.53px;font-size:7.40px;">10</div>
<div class="t" style="left:87.74px;top:689.53px;font-size:7.40px;">20</div>
<div class="t" style="left:108.87px;top:689.53px;font-size:7.40px;">50</div>
<div class="t" style="left:53.00px;top:700.57px;font-size:8.40px;transform:scaleX(0.909);">nM,&nbsp; HHT, 48 hrs</div>
<div class="t" style="left:-27.45px;top:614.30px;font-size:8.60px;width:80.30px;transform-origin:50% 50%;transform:rotate(-90deg) scaleX(0.859);">nM, OTX-015, 48 hrs</div>
<div class="b" style="left:134.60px;top:559.50px;width:10.60px;height:127.00px;background:linear-gradient(to top, rgb(255,255,255) 0%, rgb(252,228,229) 10%, rgb(249,200,202) 20%, rgb(247,173,176) 30%, rgb(244,146,150) 40%, rgb(241,118,123) 50%, rgb(238,91,97) 60%, rgb(235,64,71) 70%, rgb(233,36,44) 80%, rgb(232,31,39) 90%, rgb(232,31,39) 100%);"></div>
<div class="b" style="left:134.00px;top:558.90px;width:11.80px;height:128.20px;border:1.2px solid #231f20;box-sizing:border-box;"></div>
<div class="b" style="left:134.60px;top:577.60px;width:2.00px;height:1.00px;background:#231f20;"></div>
<div class="b" style="left:143.20px;top:577.60px;width:2.00px;height:1.00px;background:#231f20;"></div>
<div class="t" style="left:148.63px;top:574.53px;font-size:7.40px;">60</div>
<div class="b" style="left:134.60px;top:614.50px;width:2.00px;height:1.00px;background:#231f20;"></div>
<div class="b" style="left:143.20px;top:614.50px;width:2.00px;height:1.00px;background:#231f20;"></div>
<div class="t" style="left:148.85px;top:611.28px;font-size:7.40px;">40</div>
<div class="b" style="left:134.60px;top:651.40px;width:2.00px;height:1.00px;background:#231f20;"></div>
<div class="b" style="left:143.20px;top:651.40px;width:2.00px;height:1.00px;background:#231f20;"></div>
<div class="t" style="left:148.63px;top:648.18px;font-size:7.40px;">20</div>
<div class="t" style="left:140.83px;top:614.03px;font-size:8.60px;width:51.15px;transform-origin:50% 50%;transform:rotate(90deg) scaleX(0.872);">% Non-viable</div>
<div class="b" style="left:210.35px;top:559.40px;width:28.68px;height:42.63px;background:rgb(242,132,136);"></div>
<div class="b" style="left:238.73px;top:559.40px;width:28.68px;height:42.63px;background:rgb(242,125,129);"></div>
<div class="b" style="left:267.12px;top:559.40px;width:28.68px;height:42.63px;background:rgb(251,212,213);"></div>
<div class="b" style="left:210.35px;top:601.73px;width:28.68px;height:42.63px;background:rgb(245,154,158);"></div>
<div class="b" style="left:238.73px;top:601.73px;width:28.68px;height:42.63px;background:rgb(247,180,183);"></div>
<div class="b" style="left:267.12px;top:601.73px;width:28.68px;height:42.63px;background:rgb(243,141,145);"></div>
<div class="b" style="left:210.35px;top:644.07px;width:28.68px;height:42.63px;background:rgb(232,31,39);"></div>
<div class="b" style="left:238.73px;top:644.07px;width:28.68px;height:42.63px;background:rgb(232,31,39);"></div>
<div class="b" style="left:267.12px;top:644.07px;width:28.68px;height:42.63px;background:rgb(232,31,39);"></div>
<div class="b" style="left:209.75px;top:558.80px;width:86.35px;height:128.20px;border:1.2px solid #231f20;box-sizing:border-box;"></div>
<div class="t" style="left:216.02px;top:576.54px;font-size:8.60px;transform:scaleX(0.780);">10.50</div>
<div class="t" style="left:244.44px;top:576.54px;font-size:8.60px;transform:scaleX(0.780);">10.89</div>
<div class="t" style="left:274.82px;top:576.54px;font-size:8.60px;transform:scaleX(0.780);">5.97</div>
<div class="t" style="left:218.02px;top:618.77px;font-size:8.60px;transform:scaleX(0.780);">9.21</div>
<div class="t" style="left:246.37px;top:618.77px;font-size:8.60px;transform:scaleX(0.780);">7.75</div>
<div class="t" style="left:274.80px;top:618.77px;font-size:8.60px;transform:scaleX(0.780);">9.97</div>
<div class="t" style="left:216.06px;top:661.11px;font-size:8.60px;transform:scaleX(0.780);">17.99</div>
<div class="t" style="left:244.42px;top:661.11px;font-size:8.60px;transform:scaleX(0.780);">18.48</div>
<div class="t" style="left:272.81px;top:661.11px;font-size:8.60px;transform:scaleX(0.780);">16.98</div>
<div class="t" style="left:202.13px;top:544.83px;font-size:8.30px;transform:scaleX(1.007);">PD AML mtRunx1 (Mean of N = 5)</div>
<div class="t" style="left:187.26px;top:577.24px;font-size:7.40px;">1,000</div>
<div class="t" style="left:193.44px;top:619.58px;font-size:7.40px;">500</div>
<div class="t" style="left:193.44px;top:661.91px;font-size:7.40px;">250</div>
<div class="t" style="left:220.44px;top:689.88px;font-size:7.40px;">10</div>
<div class="t" style="left:248.74px;top:689.88px;font-size:7.40px;">20</div>
<div class="t" style="left:276.77px;top:689.88px;font-size:7.40px;">50</div>
<div class="t" style="left:224.20px;top:701.07px;font-size:8.40px;transform:scaleX(0.911);">nM,&nbsp; HHT, 48 hrs</div>
<div class="t" style="left:142.25px;top:618.80px;font-size:8.60px;width:80.30px;transform-origin:50% 50%;transform:rotate(-90deg) scaleX(0.859);">nM, OTX-015, 48 hrs</div>
<div class="b" style="left:306.20px;top:559.40px;width:10.20px;height:127.00px;background:linear-gradient(to top, rgb(255,255,255) 0%, rgb(252,228,229) 10%, rgb(249,200,202) 20%, rgb(247,173,176) 30%, rgb(244,146,150) 40%, rgb(241,118,123) 50%, rgb(238,91,97) 60%, rgb(235,64,71) 70%, rgb(233,36,44) 80%, rgb(232,31,39) 90%, rgb(232,31,39) 100%);"></div>
<div class="b" style="left:305.60px;top:558.80px;width:11.40px;height:128.20px;border:1.2px solid #231f20;box-sizing:border-box;"></div>
<div class="b" style="left:306.20px;top:591.50px;width:2.00px;height:1.00px;background:#231f20;"></div>
<div class="b" style="left:314.40px;top:591.50px;width:2.00px;height:1.00px;background:#231f20;"></div>
<div class="t" style="left:320.44px;top:588.28px;font-size:7.40px;">15</div>
<div class="b" style="left:306.20px;top:632.70px;width:2.00px;height:1.00px;background:#231f20;"></div>
<div class="b" style="left:314.40px;top:632.70px;width:2.00px;height:1.00px;background:#231f20;"></div>
<div class="t" style="left:320.44px;top:629.53px;font-size:7.40px;">10</div>
<div class="b" style="left:306.20px;top:673.80px;width:2.00px;height:1.00px;background:#231f20;"></div>
<div class="b" style="left:314.40px;top:673.80px;width:2.00px;height:1.00px;background:#231f20;"></div>
<div class="t" style="left:320.70px;top:670.58px;font-size:7.40px;">5</div>
<div class="t" style="left:299.05px;top:618.57px;font-size:8.60px;width:80.30px;transform-origin:50% 50%;transform:rotate(90deg) scaleX(0.816);">BLISS synergy score</div>
<div class="t" style="left:355.87px;top:6.52px;font-size:11.30px;font-weight:bold;color:#000;transform:scaleX(0.993);">B</div>
<div class="t" style="left:408.70px;top:5.92px;font-size:9.90px;transform:scaleX(0.898);">OCI-AML2</div>
<div class="t" style="left:406.15px;top:16.87px;font-size:8.60px;transform:scaleX(0.938);">Runx1</div>
<div class="t" style="left:432.17px;top:17.54px;font-size:5.00px;color:#555152;transform:scaleX(1.063);">R174*/wt</div>
<div class="b" style="left:404.00px;top:25.60px;width:52.30px;height:1.20px;background:#6d6a6b;"></div>
<div class="t" style="left:459.33px;top:27.78px;font-size:7.20px;transform:scaleX(1.033);">20 nM HHT</div>
<div class="t" style="left:459.40px;top:35.38px;font-size:7.20px;transform:scaleX(1.036);">50 nM Ven</div>
<div class="b" style="left:403.30px;top:43.30px;width:56.00px;height:15.40px;background:#c9c9c9;border:1.7px solid #1a1718;box-sizing:border-box;"></div>
<div class="b" style="left:407.00px;top:48.65px;width:10.00px;height:2.90px;background:rgb(38,38,38);border-radius:0.8px;filter:blur(0.5px);"></div>
<div class="b" style="left:407.00px;top:52.05px;width:10.00px;height:2.90px;background:rgb(41,41,41);border-radius:0.8px;filter:blur(0.5px);"></div>
<div class="b" style="left:420.60px;top:48.65px;width:10.00px;height:2.90px;background:rgb(56,56,56);border-radius:0.8px;filter:blur(0.5px);"></div>
<div class="b" style="left:420.60px;top:52.05px;width:10.00px;height:2.90px;background:rgb(56,56,56);border-radius:0.8px;filter:blur(0.5px);"></div>
<div class="b" style="left:434.30px;top:48.65px;width:10.00px;height:2.90px;background:rgb(29,29,29);border-radius:0.8px;filter:blur(0.5px);"></div>
<div class="b" style="left:434.30px;top:52.05px;width:10.00px;height:2.90px;background:rgb(34,34,34);border-radius:0.8px;filter:blur(0.5px);"></div>
<div class="b" style="left:447.50px;top:48.90px;width:9.00px;height:2.20px;background:rgb(182,182,182);border-radius:0.8px;filter:blur(0.6px);"></div>
<div class="b" style="left:447.50px;top:52.50px;width:9.00px;height:2.20px;background:rgb(173,173,173);border-radius:0.8px;filter:blur(0.6px);"></div>
<div class="t" style="left:467.37px;top:44.33px;font-size:7.30px;transform:scaleX(0.922);">WT</div>
<div class="t" style="left:466.80px;top:51.73px;font-size:7.30px;transform:scaleX(1.035);">RUNX1b/c</div>
<div class="b" style="left:403.30px;top:61.20px;width:56.00px;height:12.20px;background:#c9c9c9;border:1.7px solid #1a1718;box-sizing:border-box;"></div>
<div class="b" style="left:407.25px;top:67.80px;width:9.50px;height:1.60px;background:rgb(70,70,70);border-radius:0.8px;filter:blur(0.4px);"></div>
<div class="b" style="left:420.85px;top:67.85px;width:9.50px;height:1.50px;background:rgb(137,137,137);border-radius:0.8px;filter:blur(0.45px);"></div>
<div class="b" style="left:434.55px;top:67.60px;width:9.50px;height:1.80px;background:rgb(29,29,29);border-radius:0.8px;filter:blur(0.4px);"></div>
<div class="b" style="left:447.50px;top:67.90px;width:9.00px;height:1.40px;background:rgb(185,185,185);border-radius:0.7px;filter:blur(0.5px);"></div>
<div class="t" style="left:466.83px;top:60.73px;font-size:7.30px;transform:scaleX(0.982);">RUNX1</div>
<div class="t" style="left:466.79px;top:67.83px;font-size:7.30px;transform:scaleX(1.051);">R174*</div>
<div class="b" style="left:403.30px;top:76.10px;width:56.00px;height:15.50px;background:#c9c9c9;border:1.7px solid #1a1718;box-sizing:border-box;"></div>
<div class="b" style="left:408.00px;top:83.20px;width:8.60px;height:3.60px;background:rgb(20,20,20);border-radius:0.8px;filter:blur(0.5px);"></div>
<div class="b" style="left:407.60px;top:86.00px;width:1.20px;height:3.00px;background:rgb(92,92,92);border-radius:0.8px;filter:blur(0.5px);"></div>
<div class="b" style="left:421.60px;top:85.80px;width:8.00px;height:1.20px;background:rgb(173,173,173);border-radius:0.6px;filter:blur(0.5px);"></div>
<div class="b" style="left:434.80px;top:82.50px;width:9.00px;height:4.20px;background:rgb(20,20,20);border-radius:0.8px;filter:blur(0.5px);"></div>
<div class="t" style="left:467.10px;top:81.23px;font-size:7.30px;transform:scaleX(1.033);">c-Myc</div>
<div class="b" style="left:403.30px;top:94.30px;width:56.00px;height:14.90px;background:#c9c9c9;border:1.7px solid #1a1718;box-sizing:border-box;"></div>
<div class="b" style="left:407.25px;top:101.65px;width:9.50px;height:1.90px;background:rgb(47,47,47);border-radius:0.8px;filter:blur(0.35px);"></div>
<div class="b" style="left:421.10px;top:101.60px;width:9.00px;height:2.00px;background:rgb(146,146,146);border-radius:0.8px;filter:blur(0.5px);"></div>
<div class="b" style="left:434.55px;top:101.45px;width:9.50px;height:1.90px;background:rgb(38,38,38);border-radius:0.8px;filter:blur(0.35px);"></div>
<div class="t" style="left:467.29px;top:98.93px;font-size:7.30px;transform:scaleX(1.053);">c-Myb</div>
<div class="b" style="left:403.30px;top:112.20px;width:56.00px;height:15.10px;background:#c9c9c9;border:1.7px solid #1a1718;box-sizing:border-box;"></div>
<div class="b" style="left:407.25px;top:118.95px;width:9.50px;height:1.90px;background:rgb(41,41,41);border-radius:0.8px;filter:blur(0.35px);"></div>
<div class="b" style="left:421.35px;top:119.15px;width:8.50px;height:1.50px;background:rgb(128,128,128);border-radius:0.8px;filter:blur(0.4px);"></div>
<div class="b" style="left:434.55px;top:118.60px;width:9.50px;height:2.20px;background:rgb(20,20,20);border-radius:0.8px;filter:blur(0.35px);"></div>
<div class="b" style="left:448.00px;top:119.30px;width:8.00px;height:1.20px;background:rgb(182,182,182);border-radius:0.6px;filter:blur(0.5px);"></div>
<div class="t" style="left:467.01px;top:115.53px;font-size:7.30px;transform:scaleX(1.014);">MCL1</div>
<div class="b" style="left:403.30px;top:130.00px;width:56.00px;height:15.00px;background:#c9c9c9;border:1.7px solid #1a1718;box-sizing:border-box;"></div>
<div class="b" style="left:407.25px;top:134.75px;width:9.50px;height:2.50px;background:rgb(146,146,146);border-radius:0.8px;filter:blur(0.6px);"></div>
<div class="b" style="left:420.85px;top:134.75px;width:9.50px;height:2.50px;background:rgb(137,137,137);border-radius:0.8px;filter:blur(0.6px);"></div>
<div class="b" style="left:434.55px;top:134.75px;width:9.50px;height:2.50px;background:rgb(146,146,146);border-radius:0.8px;filter:blur(0.6px);"></div>
<div class="b" style="left:407.25px;top:138.35px;width:9.50px;height:1.90px;background:rgb(41,41,41);border-radius:0.8px;filter:blur(0.35px);"></div>
<div class="b" style="left:420.85px;top:138.35px;width:9.50px;height:1.90px;background:rgb(47,47,47);border-radius:0.8px;filter:blur(0.35px);"></div>
<div class="b" style="left:434.55px;top:138.35px;width:9.50px;height:1.90px;background:rgb(38,38,38);border-radius:0.8px;filter:blur(0.35px);"></div>
<div class="b" style="left:447.00px;top:134.60px;width:10.00px;height:2.00px;background:rgb(20,20,20);border-radius:0.8px;filter:blur(0.35px);"></div>
<div class="b" style="left:447.50px;top:138.60px;width:9.00px;height:1.40px;background:rgb(164,164,164);border-radius:0.7px;filter:blur(0.5px);"></div>
<div class="b" style="left:461.40px;top:135.40px;width:4.20px;height:0.80px;background:#231f20;"></div>
<div class="b" style="left:461.40px;top:138.00px;width:4.20px;height:0.80px;background:#231f20;"></div>
<div class="t" style="left:467.04px;top:133.53px;font-size:7.30px;transform:scaleX(0.962);">BCL-x</div>
<div class="t" style="left:486.68px;top:138.54px;font-size:3.30px;transform:scaleX(1.226);">L</div>
<div class="b" style="left:403.30px;top:148.00px;width:56.00px;height:14.80px;background:#c9c9c9;border:1.7px solid #1a1718;box-sizing:border-box;"></div>
<div class="b" style="left:407.25px;top:154.80px;width:9.50px;height:2.00px;background:rgb(20,20,20);border-radius:0.8px;filter:blur(0.3px);"></div>
<div class="b" style="left:420.85px;top:154.70px;width:9.50px;height:2.00px;background:rgb(20,20,20);border-radius:0.8px;filter:blur(0.3px);"></div>
<div class="b" style="left:434.55px;top:154.30px;width:9.50px;height:2.00px;background:rgb(20,20,20);border-radius:0.8px;filter:blur(0.3px);"></div>
<div class="b" style="left:447.25px;top:153.80px;width:9.50px;height:2.40px;background:rgb(20,20,20);border-radius:0.8px;filter:blur(0.3px);"></div>
<div class="t" style="left:467.02px;top:151.33px;font-size:7.30px;transform:scaleX(0.994);">BCL2</div>
<div class="b" style="left:403.30px;top:165.60px;width:56.00px;height:14.90px;background:#c9c9c9;border:1.7px solid #1a1718;box-sizing:border-box;"></div>
<div class="b" style="left:407.25px;top:172.30px;width:9.50px;height:2.00px;background:rgb(20,20,20);border-radius:0.8px;filter:blur(0.3px);"></div>
<div class="b" style="left:420.85px;top:172.50px;width:9.50px;height:2.00px;background:rgb(20,20,20);border-radius:0.8px;filter:blur(0.3px);"></div>
<div class="b" style="left:434.55px;top:172.60px;width:9.50px;height:2.00px;background:rgb(20,20,20);border-radius:0.8px;filter:blur(0.3px);"></div>
<div class="b" style="left:447.25px;top:172.30px;width:9.50px;height:2.00px;background:rgb(20,20,20);border-radius:0.8px;filter:blur(0.3px);"></div>
<div class="t" style="left:467.23px;top:169.63px;font-size:7.30px;transform:scaleX(1.024);">GAPDH</div>
<div class="t" style="left:355.75px;top:189.52px;font-size:11.30px;font-weight:bold;color:#000;transform:scaleX(1.151);">D</div>
<div class="t" style="left:419.80px;top:197.52px;font-size:8.40px;transform:scaleX(1.037);">PD AML cells</div>
<div class="t" style="left:386.40px;top:210.68px;font-size:7.80px;transform:scaleX(0.990);">mtRunx1 N = 5</div>
<div class="t" style="left:386.90px;top:221.58px;font-size:7.80px;">wtRunx1 N = 8</div>
<div class="t" style="left:471.79px;top:214.53px;font-size:7.80px;">p &lt; 0.05</div>
<div class="t" style="left:361.04px;top:235.53px;font-size:7.40px;">100</div>
<div class="t" style="left:365.15px;top:253.58px;font-size:7.40px;">80</div>
<div class="t" style="left:365.15px;top:271.53px;font-size:7.40px;">60</div>
<div class="t" style="left:365.14px;top:289.53px;font-size:7.40px;">40</div>
<div class="t" style="left:365.15px;top:307.18px;font-size:7.40px;">20</div>
<div class="t" style="left:369.25px;top:324.88px;font-size:7.40px;">0</div>
<div class="t" style="left:385.18px;top:333.88px;font-size:7.00px;transform:scaleX(1.131);">0</div>
<div class="t" style="left:398.10px;top:333.88px;font-size:7.00px;">250</div>
<div class="t" style="left:414.46px;top:333.88px;font-size:7.00px;transform:scaleX(1.051);">500</div>
<div class="t" style="left:428.51px;top:333.88px;font-size:7.00px;transform:scaleX(1.022);">1,000</div>
<div class="t" style="left:452.22px;top:333.88px;font-size:7.00px;transform:scaleX(1.012);">0</div>
<div class="t" style="left:464.77px;top:333.88px;font-size:7.00px;transform:scaleX(1.094);">250</div>
<div class="t" style="left:481.92px;top:333.88px;font-size:7.00px;transform:scaleX(1.006);">500</div>
<div class="t" style="left:495.20px;top:333.88px;font-size:7.00px;transform:scaleX(1.046);">1,000</div>
<div class="t" style="left:409.71px;top:345.97px;font-size:8.40px;transform:scaleX(0.896);">nM,&nbsp; OTX-015, 48 hrs</div>
<div class="t" style="left:321.13px;top:279.70px;font-size:8.60px;width:70.74px;transform-origin:50% 50%;transform:rotate(-90deg) scaleX(0.863);">% Non-viable cells</div>
<svg class="b" style="left:0;top:0" width="520" height="716" viewBox="0 0 520 716"><polygon points="380.20,216.90 384.20,216.90 382.20,213.50" fill="#d0142c"/><rect x="380.30" y="224.30" width="3.4" height="3.4" fill="#0f5596"/><line x1="378.80" y1="238.70" x2="378.80" y2="329.00" stroke="#231f20" stroke-width="1.3"/><line x1="378.20" y1="328.50" x2="513.30" y2="328.50" stroke="#231f20" stroke-width="1.3"/><line x1="376.20" y1="239.10" x2="378.50" y2="239.10" stroke="#231f20" stroke-width="1.0"/><line x1="376.20" y1="257.30" x2="378.50" y2="257.30" stroke="#231f20" stroke-width="1.0"/><line x1="376.20" y1="275.10" x2="378.50" y2="275.10" stroke="#231f20" stroke-width="1.0"/><line x1="376.20" y1="293.10" x2="378.50" y2="293.10" stroke="#231f20" stroke-width="1.0"/><line x1="376.20" y1="310.90" x2="378.50" y2="310.90" stroke="#231f20" stroke-width="1.0"/><line x1="376.20" y1="328.60" x2="378.50" y2="328.60" stroke="#231f20" stroke-width="1.0"/><line x1="387.40" y1="328.50" x2="387.40" y2="331.60" stroke="#231f20" stroke-width="1.0"/><line x1="404.00" y1="328.50" x2="404.00" y2="331.60" stroke="#231f20" stroke-width="1.0"/><line x1="420.60" y1="328.50" x2="420.60" y2="331.60" stroke="#231f20" stroke-width="1.0"/><line x1="437.60" y1="328.50" x2="437.60" y2="331.60" stroke="#231f20" stroke-width="1.0"/><line x1="454.20" y1="328.50" x2="454.20" y2="331.60" stroke="#231f20" stroke-width="1.0"/><line x1="471.20" y1="328.50" x2="471.20" y2="331.60" stroke="#231f20" stroke-width="1.0"/><line x1="487.80" y1="328.50" x2="487.80" y2="331.60" stroke="#231f20" stroke-width="1.0"/><line x1="504.50" y1="328.50" x2="504.50" y2="331.60" stroke="#231f20" stroke-width="1.0"/><line x1="404.20" y1="257.40" x2="471.60" y2="257.40" stroke="#231f20" stroke-width="1.0"/><line x1="404.20" y1="256.90" x2="404.20" y2="261.80" stroke="#231f20" stroke-width="1.0"/><line x1="471.60" y1="256.90" x2="471.60" y2="299.20" stroke="#231f20" stroke-width="1.0"/><line x1="439.50" y1="252.80" x2="439.50" y2="257.40" stroke="#231f20" stroke-width="1.0"/><line x1="439.50" y1="249.30" x2="439.50" y2="247.30" stroke="#231f20" stroke-width="1.0"/><line x1="439.50" y1="249.30" x2="441.40" y2="248.68" stroke="#231f20" stroke-width="1.0"/><line x1="439.50" y1="249.30" x2="440.68" y2="250.92" stroke="#231f20" stroke-width="1.0"/><line x1="439.50" y1="249.30" x2="438.32" y2="250.92" stroke="#231f20" stroke-width="1.0"/><line x1="439.50" y1="249.30" x2="437.60" y2="248.68" stroke="#231f20" stroke-width="1.0"/><line x1="420.80" y1="245.20" x2="488.10" y2="245.20" stroke="#231f20" stroke-width="1.0"/><line x1="420.80" y1="244.70" x2="420.80" y2="251.50" stroke="#231f20" stroke-width="1.0"/><line x1="488.10" y1="244.70" x2="488.10" y2="289.80" stroke="#231f20" stroke-width="1.0"/><line x1="457.60" y1="240.80" x2="457.60" y2="245.20" stroke="#231f20" stroke-width="1.0"/><line x1="457.60" y1="237.60" x2="457.60" y2="235.60" stroke="#231f20" stroke-width="1.0"/><line x1="457.60" y1="237.60" x2="459.50" y2="236.98" stroke="#231f20" stroke-width="1.0"/><line x1="457.60" y1="237.60" x2="458.78" y2="239.22" stroke="#231f20" stroke-width="1.0"/><line x1="457.60" y1="237.60" x2="456.42" y2="239.22" stroke="#231f20" stroke-width="1.0"/><line x1="457.60" y1="237.60" x2="455.70" y2="236.98" stroke="#231f20" stroke-width="1.0"/><line x1="437.70" y1="233.00" x2="504.80" y2="233.00" stroke="#231f20" stroke-width="1.0"/><line x1="437.70" y1="232.50" x2="437.70" y2="239.00" stroke="#231f20" stroke-width="1.0"/><line x1="504.80" y1="232.50" x2="504.80" y2="283.50" stroke="#231f20" stroke-width="1.0"/><line x1="469.60" y1="228.00" x2="469.60" y2="233.00" stroke="#231f20" stroke-width="1.0"/><line x1="469.60" y1="225.40" x2="469.60" y2="223.40" stroke="#231f20" stroke-width="1.0"/><line x1="469.60" y1="225.40" x2="471.50" y2="224.78" stroke="#231f20" stroke-width="1.0"/><line x1="469.60" y1="225.40" x2="470.78" y2="227.02" stroke="#231f20" stroke-width="1.0"/><line x1="469.60" y1="225.40" x2="468.42" y2="227.02" stroke="#231f20" stroke-width="1.0"/><line x1="469.60" y1="225.40" x2="467.70" y2="224.78" stroke="#231f20" stroke-width="1.0"/><polygon points="381.80,314.40 385.40,314.40 383.60,311.20" fill="#d0142c"/><polygon points="385.40,314.60 389.00,314.60 387.20,311.40" fill="#d0142c"/><polygon points="389.00,314.90 392.60,314.90 390.80,311.70" fill="#d0142c"/><polygon points="385.50,322.10 389.10,322.10 387.30,318.90" fill="#d0142c"/><polygon points="385.50,328.40 389.10,328.40 387.30,325.20" fill="#d0142c"/><polygon points="402.30,274.10 405.90,274.10 404.10,270.90" fill="#d0142c"/><polygon points="402.30,285.90 405.90,285.90 404.10,282.70" fill="#d0142c"/><polygon points="398.70,305.10 402.30,305.10 400.50,301.90" fill="#d0142c"/><polygon points="402.20,306.60 405.80,306.60 404.00,303.40" fill="#d0142c"/><polygon points="405.60,308.20 409.20,308.20 407.40,305.00" fill="#d0142c"/><polygon points="419.00,268.50 422.60,268.50 420.80,265.30" fill="#d0142c"/><polygon points="419.00,277.80 422.60,277.80 420.80,274.60" fill="#d0142c"/><polygon points="415.60,298.10 419.20,298.10 417.40,294.90" fill="#d0142c"/><polygon points="419.00,298.10 422.60,298.10 420.80,294.90" fill="#d0142c"/><polygon points="422.40,303.10 426.00,303.10 424.20,299.90" fill="#d0142c"/><polygon points="435.90,264.60 439.50,264.60 437.70,261.40" fill="#d0142c"/><polygon points="435.90,271.60 439.50,271.60 437.70,268.40" fill="#d0142c"/><polygon points="432.50,290.80 436.10,290.80 434.30,287.60" fill="#d0142c"/><polygon points="435.90,292.40 439.50,292.40 437.70,289.20" fill="#d0142c"/><polygon points="439.20,292.80 442.80,292.80 441.00,289.60" fill="#d0142c"/><line x1="381.70" y1="317.05" x2="392.90" y2="317.05" stroke="#231f20" stroke-width="1.4"/><line x1="387.30" y1="314.20" x2="387.30" y2="319.80" stroke="#231f20" stroke-width="1.3"/><line x1="384.40" y1="314.20" x2="390.20" y2="314.20" stroke="#231f20" stroke-width="1.3"/><line x1="384.40" y1="319.80" x2="390.20" y2="319.80" stroke="#231f20" stroke-width="1.3"/><line x1="398.50" y1="294.10" x2="409.70" y2="294.10" stroke="#231f20" stroke-width="1.4"/><line x1="404.10" y1="286.90" x2="404.10" y2="301.00" stroke="#231f20" stroke-width="1.3"/><line x1="401.20" y1="286.90" x2="407.00" y2="286.90" stroke="#231f20" stroke-width="1.3"/><line x1="401.20" y1="301.00" x2="407.00" y2="301.00" stroke="#231f20" stroke-width="1.3"/><line x1="415.20" y1="287.20" x2="426.40" y2="287.20" stroke="#231f20" stroke-width="1.4"/><line x1="420.80" y1="280.30" x2="420.80" y2="293.80" stroke="#231f20" stroke-width="1.3"/><line x1="417.90" y1="280.30" x2="423.70" y2="280.30" stroke="#231f20" stroke-width="1.3"/><line x1="417.90" y1="293.80" x2="423.70" y2="293.80" stroke="#231f20" stroke-width="1.3"/><line x1="432.10" y1="280.50" x2="443.30" y2="280.50" stroke="#231f20" stroke-width="1.4"/><line x1="437.70" y1="274.60" x2="437.70" y2="286.50" stroke="#231f20" stroke-width="1.3"/><line x1="434.80" y1="274.60" x2="440.60" y2="274.60" stroke="#231f20" stroke-width="1.3"/><line x1="434.80" y1="286.50" x2="440.60" y2="286.50" stroke="#231f20" stroke-width="1.3"/><rect x="450.00" y="313.50" width="3.0" height="3.0" fill="#0f5596"/><rect x="453.00" y="313.10" width="3.0" height="3.0" fill="#0f5596"/><rect x="456.00" y="313.70" width="3.0" height="3.0" fill="#0f5596"/><rect x="449.30" y="316.70" width="3.0" height="3.0" fill="#0f5596"/><rect x="453.00" y="317.30" width="3.0" height="3.0" fill="#0f5596"/><rect x="456.70" y="316.50" width="3.0" height="3.0" fill="#0f5596"/><rect x="451.00" y="320.00" width="3.0" height="3.0" fill="#0f5596"/><rect x="455.00" y="320.30" width="3.0" height="3.0" fill="#0f5596"/><rect x="448.70" y="315.50" width="3.0" height="3.0" fill="#0f5596"/><rect x="469.20" y="302.80" width="3.0" height="3.0" fill="#0f5596"/><rect x="470.50" y="307.20" width="3.0" height="3.0" fill="#0f5596"/><rect x="466.00" y="310.30" width="3.0" height="3.0" fill="#0f5596"/><rect x="469.00" y="310.80" width="3.0" height="3.0" fill="#0f5596"/><rect x="472.70" y="311.00" width="3.0" height="3.0" fill="#0f5596"/><rect x="466.50" y="313.50" width="3.0" height="3.0" fill="#0f5596"/><rect x="470.00" y="314.00" width="3.0" height="3.0" fill="#0f5596"/><rect x="473.30" y="313.00" width="3.0" height="3.0" fill="#0f5596"/><rect x="486.50" y="293.80" width="3.0" height="3.0" fill="#0f5596"/><rect x="486.50" y="299.20" width="3.0" height="3.0" fill="#0f5596"/><rect x="483.50" y="305.00" width="3.0" height="3.0" fill="#0f5596"/><rect x="486.50" y="307.00" width="3.0" height="3.0" fill="#0f5596"/><rect x="489.50" y="305.50" width="3.0" height="3.0" fill="#0f5596"/><rect x="484.50" y="310.00" width="3.0" height="3.0" fill="#0f5596"/><rect x="488.00" y="311.00" width="3.0" height="3.0" fill="#0f5596"/><rect x="490.50" y="312.00" width="3.0" height="3.0" fill="#0f5596"/><rect x="483.00" y="311.50" width="3.0" height="3.0" fill="#0f5596"/><rect x="503.30" y="287.00" width="3.0" height="3.0" fill="#0f5596"/><rect x="503.30" y="295.90" width="3.0" height="3.0" fill="#0f5596"/><rect x="499.60" y="305.50" width="3.0" height="3.0" fill="#0f5596"/><rect x="503.30" y="305.50" width="3.0" height="3.0" fill="#0f5596"/><rect x="501.50" y="308.00" width="3.0" height="3.0" fill="#0f5596"/><rect x="506.50" y="310.50" width="3.0" height="3.0" fill="#0f5596"/><line x1="448.60" y1="318.60" x2="459.80" y2="318.60" stroke="#231f20" stroke-width="1.4"/><line x1="454.20" y1="317.40" x2="454.20" y2="319.80" stroke="#231f20" stroke-width="1.3"/><line x1="451.30" y1="317.40" x2="457.10" y2="317.40" stroke="#231f20" stroke-width="1.3"/><line x1="451.30" y1="319.80" x2="457.10" y2="319.80" stroke="#231f20" stroke-width="1.3"/><line x1="465.40" y1="312.50" x2="476.60" y2="312.50" stroke="#231f20" stroke-width="1.4"/><line x1="471.00" y1="310.80" x2="471.00" y2="314.20" stroke="#231f20" stroke-width="1.3"/><line x1="468.10" y1="310.80" x2="473.90" y2="310.80" stroke="#231f20" stroke-width="1.3"/><line x1="468.10" y1="314.20" x2="473.90" y2="314.20" stroke="#231f20" stroke-width="1.3"/><line x1="482.40" y1="308.50" x2="493.60" y2="308.50" stroke="#231f20" stroke-width="1.4"/><line x1="488.00" y1="305.60" x2="488.00" y2="310.30" stroke="#231f20" stroke-width="1.3"/><line x1="485.10" y1="305.60" x2="490.90" y2="305.60" stroke="#231f20" stroke-width="1.3"/><line x1="485.10" y1="310.30" x2="490.90" y2="310.30" stroke="#231f20" stroke-width="1.3"/><line x1="499.20" y1="302.90" x2="510.40" y2="302.90" stroke="#231f20" stroke-width="1.4"/><line x1="504.80" y1="298.50" x2="504.80" y2="307.00" stroke="#231f20" stroke-width="1.3"/><line x1="501.90" y1="298.50" x2="507.70" y2="298.50" stroke="#231f20" stroke-width="1.3"/><line x1="501.90" y1="307.00" x2="507.70" y2="307.00" stroke="#231f20" stroke-width="1.3"/></svg>
<div class="t" style="left:356.21px;top:367.62px;font-size:11.30px;font-weight:bold;color:#000;transform:scaleX(0.937);">F</div>
<div class="t" style="left:407.11px;top:365.27px;font-size:9.40px;transform:scaleX(0.911);">OCI-AML2</div>
<div class="t" style="left:405.89px;top:375.23px;font-size:8.30px;transform:scaleX(0.919);">Runx1</div>
<div class="t" style="left:428.39px;top:375.53px;font-size:5.00px;color:#555152;transform:scaleX(1.018);">R174*/wt</div>
<div class="b" style="left:402.70px;top:384.70px;width:49.90px;height:1.20px;background:#6d6a6b;"></div>
<div class="t" style="left:453.63px;top:385.38px;font-size:7.20px;transform:scaleX(1.020);">20 nM HHT</div>
<div class="t" style="left:453.63px;top:394.08px;font-size:7.20px;transform:scaleX(1.035);">250 nM OTX</div>
<div class="b" style="left:401.20px;top:402.00px;width:51.40px;height:14.50px;background:#c9c9c9;border:1.7px solid #1a1718;box-sizing:border-box;"></div>
<div class="b" style="left:404.70px;top:405.00px;width:8.00px;height:1.20px;background:rgb(173,173,173);border-radius:0.6px;filter:blur(0.5px);"></div>
<div class="b" style="left:417.20px;top:405.00px;width:8.00px;height:1.20px;background:rgb(173,173,173);border-radius:0.6px;filter:blur(0.5px);"></div>
<div class="b" style="left:429.50px;top:405.00px;width:8.00px;height:1.20px;background:rgb(173,173,173);border-radius:0.6px;filter:blur(0.5px);"></div>
<div class="b" style="left:441.80px;top:405.00px;width:8.00px;height:1.20px;background:rgb(178,178,178);border-radius:0.6px;filter:blur(0.5px);"></div>
<div class="b" style="left:404.10px;top:410.50px;width:9.20px;height:3.40px;background:rgb(20,20,20);border-radius:0.8px;filter:blur(0.6px);"></div>
<div class="b" style="left:416.80px;top:410.80px;width:8.80px;height:3.00px;background:rgb(47,47,47);border-radius:0.8px;filter:blur(0.6px);"></div>
<div class="b" style="left:428.90px;top:410.70px;width:9.20px;height:3.20px;background:rgb(38,38,38);border-radius:0.8px;filter:blur(0.6px);"></div>
<div class="b" style="left:441.60px;top:410.50px;width:8.40px;height:3.00px;background:rgb(92,92,92);border-radius:0.8px;filter:blur(0.6px);"></div>
<div class="t" style="left:460.97px;top:404.53px;font-size:6.70px;transform:scaleX(0.976);">WT</div>
<div class="t" style="left:460.45px;top:410.53px;font-size:6.70px;transform:scaleX(1.031);">RUNX1b/c</div>
<div class="b" style="left:401.20px;top:419.10px;width:51.40px;height:10.30px;background:#c9c9c9;border:1.7px solid #1a1718;box-sizing:border-box;"></div>
<div class="b" style="left:404.45px;top:424.85px;width:8.50px;height:1.30px;background:rgb(137,137,137);border-radius:0.7px;filter:blur(0.45px);"></div>
<div class="b" style="left:417.20px;top:424.90px;width:8.00px;height:1.20px;background:rgb(164,164,164);border-radius:0.6px;filter:blur(0.5px);"></div>
<div class="b" style="left:429.25px;top:424.70px;width:8.50px;height:1.60px;background:rgb(29,29,29);border-radius:0.8px;filter:blur(0.35px);"></div>
<div class="b" style="left:441.55px;top:424.80px;width:8.50px;height:1.40px;background:rgb(128,128,128);border-radius:0.7px;filter:blur(0.45px);"></div>
<div class="t" style="left:460.48px;top:419.53px;font-size:6.70px;transform:scaleX(0.974);">RUNX1</div>
<div class="t" style="left:460.46px;top:425.53px;font-size:6.70px;transform:scaleX(1.006);">R174*</div>
<div class="b" style="left:401.20px;top:432.00px;width:51.40px;height:14.50px;background:#c9c9c9;border:1.7px solid #1a1718;box-sizing:border-box;"></div>
<div class="b" style="left:404.20px;top:436.00px;width:9.00px;height:2.00px;background:rgb(38,38,38);border-radius:0.8px;filter:blur(0.35px);"></div>
<div class="b" style="left:416.70px;top:436.30px;width:9.00px;height:2.00px;background:rgb(83,83,83);border-radius:0.8px;filter:blur(0.4px);"></div>
<div class="b" style="left:429.25px;top:436.45px;width:8.50px;height:1.70px;background:rgb(92,92,92);border-radius:0.8px;filter:blur(0.4px);"></div>
<div class="b" style="left:442.30px;top:436.70px;width:7.00px;height:1.20px;background:rgb(182,182,182);border-radius:0.6px;filter:blur(0.5px);"></div>
<div class="b" style="left:404.70px;top:441.10px;width:8.00px;height:1.00px;background:rgb(178,178,178);border-radius:0.5px;filter:blur(0.5px);"></div>
<div class="b" style="left:417.20px;top:441.10px;width:8.00px;height:1.00px;background:rgb(182,182,182);border-radius:0.5px;filter:blur(0.5px);"></div>
<div class="b" style="left:429.50px;top:441.10px;width:8.00px;height:1.00px;background:rgb(182,182,182);border-radius:0.5px;filter:blur(0.5px);"></div>
<div class="t" style="left:460.48px;top:433.53px;font-size:6.70px;transform:scaleX(0.962);">PU.1</div>
<div class="b" style="left:401.20px;top:449.30px;width:51.40px;height:14.70px;background:#c9c9c9;border:1.7px solid #1a1718;box-sizing:border-box;"></div>
<div class="b" style="left:403.90px;top:455.10px;width:9.60px;height:4.40px;background:rgb(20,20,20);border-radius:0.8px;filter:blur(0.7px);"></div>
<div class="b" style="left:417.20px;top:457.20px;width:8.00px;height:1.60px;background:rgb(178,178,178);border-radius:0.8px;filter:blur(0.6px);"></div>
<div class="b" style="left:429.25px;top:457.10px;width:8.50px;height:1.80px;background:rgb(146,146,146);border-radius:0.8px;filter:blur(0.6px);"></div>
<div class="t" style="left:460.72px;top:454.53px;font-size:6.90px;transform:scaleX(1.031);">c-Myc</div>
<div class="b" style="left:401.20px;top:466.40px;width:51.40px;height:15.20px;background:#c9c9c9;border:1.7px solid #1a1718;box-sizing:border-box;"></div>
<div class="b" style="left:404.20px;top:475.00px;width:9.00px;height:2.20px;background:rgb(47,47,47);border-radius:0.8px;filter:blur(0.4px);"></div>
<div class="b" style="left:416.95px;top:475.20px;width:8.50px;height:1.80px;background:rgb(137,137,137);border-radius:0.8px;filter:blur(0.45px);"></div>
<div class="b" style="left:429.25px;top:475.10px;width:8.50px;height:2.00px;background:rgb(83,83,83);border-radius:0.8px;filter:blur(0.4px);"></div>
<div class="t" style="left:460.71px;top:472.53px;font-size:6.90px;transform:scaleX(1.043);">c-Myb</div>
<div class="b" style="left:401.20px;top:483.70px;width:51.40px;height:15.00px;background:#c9c9c9;border:1.7px solid #1a1718;box-sizing:border-box;"></div>
<div class="b" style="left:404.45px;top:490.80px;width:8.50px;height:1.20px;background:rgb(146,146,146);border-radius:0.6px;filter:blur(0.45px);"></div>
<div class="b" style="left:417.20px;top:490.90px;width:8.00px;height:1.00px;background:rgb(167,167,167);border-radius:0.5px;filter:blur(0.5px);"></div>
<div class="b" style="left:429.25px;top:490.00px;width:8.50px;height:2.00px;background:rgb(20,20,20);border-radius:0.8px;filter:blur(0.35px);"></div>
<div class="b" style="left:441.80px;top:489.95px;width:8.00px;height:1.50px;background:rgb(119,119,119);border-radius:0.8px;filter:blur(0.45px);"></div>
<div class="t" style="left:461.07px;top:488.53px;font-size:6.90px;transform:scaleX(0.951);">HEXIM1</div>
<div class="b" style="left:401.20px;top:501.00px;width:51.40px;height:14.70px;background:#c9c9c9;border:1.7px solid #1a1718;box-sizing:border-box;"></div>
<div class="b" style="left:404.20px;top:507.20px;width:9.00px;height:1.60px;background:rgb(137,137,137);border-radius:0.8px;filter:blur(0.5px);"></div>
<div class="b" style="left:416.70px;top:507.20px;width:9.00px;height:1.60px;background:rgb(146,146,146);border-radius:0.8px;filter:blur(0.5px);"></div>
<div class="b" style="left:429.00px;top:507.20px;width:9.00px;height:1.60px;background:rgb(137,137,137);border-radius:0.8px;filter:blur(0.5px);"></div>
<div class="b" style="left:441.30px;top:507.20px;width:9.00px;height:1.60px;background:rgb(146,146,146);border-radius:0.8px;filter:blur(0.5px);"></div>
<div class="b" style="left:404.20px;top:509.60px;width:9.00px;height:2.00px;background:rgb(29,29,29);border-radius:0.8px;filter:blur(0.35px);"></div>
<div class="b" style="left:416.70px;top:509.60px;width:9.00px;height:2.00px;background:rgb(29,29,29);border-radius:0.8px;filter:blur(0.35px);"></div>
<div class="b" style="left:429.00px;top:509.25px;width:9.00px;height:2.30px;background:rgb(20,20,20);border-radius:0.8px;filter:blur(0.35px);"></div>
<div class="b" style="left:441.55px;top:509.50px;width:8.50px;height:1.80px;background:rgb(83,83,83);border-radius:0.8px;filter:blur(0.4px);"></div>
<div class="t" style="left:461.11px;top:506.53px;font-size:6.90px;transform:scaleX(0.883);">BRD4</div>
<div class="b" style="left:401.20px;top:518.20px;width:51.40px;height:14.40px;background:#c9c9c9;border:1.7px solid #1a1718;box-sizing:border-box;"></div>
<div class="b" style="left:403.95px;top:524.60px;width:9.50px;height:2.40px;background:rgb(20,20,20);border-radius:0.8px;filter:blur(0.3px);"></div>
<div class="b" style="left:416.45px;top:524.60px;width:9.50px;height:2.40px;background:rgb(20,20,20);border-radius:0.8px;filter:blur(0.3px);"></div>
<div class="b" style="left:428.75px;top:524.60px;width:9.50px;height:2.40px;background:rgb(20,20,20);border-radius:0.8px;filter:blur(0.3px);"></div>
<div class="b" style="left:441.05px;top:524.10px;width:9.50px;height:2.60px;background:rgb(20,20,20);border-radius:0.8px;filter:blur(0.3px);"></div>
<div class="t" style="left:460.64px;top:522.53px;font-size:6.90px;transform:scaleX(1.037);">GAPDH</div>
<svg class="b" style="left:0;top:0" width="520" height="716" viewBox="0 0 520 716"><line x1="462.40" y1="51.80" x2="466.20" y2="51.80" stroke="#231f20" stroke-width="1"/><polygon points="461.20,51.80 463.10,50.60 463.10,53.00" fill="#231f20"/><line x1="462.40" y1="67.70" x2="466.20" y2="67.70" stroke="#231f20" stroke-width="1"/><polygon points="461.20,67.70 463.10,66.50 463.10,68.90" fill="#231f20"/><line x1="462.40" y1="84.90" x2="466.20" y2="84.90" stroke="#231f20" stroke-width="1"/><polygon points="461.20,84.90 463.10,83.70 463.10,86.10" fill="#231f20"/><line x1="462.60" y1="102.60" x2="465.60" y2="102.60" stroke="#231f20" stroke-width="1"/><polygon points="461.40,102.60 463.30,101.40 463.30,103.80" fill="#231f20"/><line x1="462.60" y1="119.20" x2="465.60" y2="119.20" stroke="#231f20" stroke-width="1"/><polygon points="461.40,119.20 463.30,118.00 463.30,120.40" fill="#231f20"/><line x1="462.60" y1="155.00" x2="465.60" y2="155.00" stroke="#231f20" stroke-width="1"/><polygon points="461.40,155.00 463.30,153.80 463.30,156.20" fill="#231f20"/><line x1="462.60" y1="173.30" x2="465.60" y2="173.30" stroke="#231f20" stroke-width="1"/><polygon points="461.40,173.30 463.30,172.10 463.30,174.50" fill="#231f20"/><line x1="455.80" y1="412.40" x2="459.20" y2="412.40" stroke="#231f20" stroke-width="1"/><polygon points="454.60,412.40 456.50,411.20 456.50,413.60" fill="#231f20"/><line x1="455.80" y1="425.50" x2="459.20" y2="425.50" stroke="#231f20" stroke-width="1"/><polygon points="454.60,425.50 456.50,424.30 456.50,426.70" fill="#231f20"/><line x1="455.80" y1="436.40" x2="459.20" y2="436.40" stroke="#231f20" stroke-width="1"/><polygon points="454.60,436.40 456.50,435.20 456.50,437.60" fill="#231f20"/><line x1="455.80" y1="457.40" x2="459.20" y2="457.40" stroke="#231f20" stroke-width="1"/><polygon points="454.60,457.40 456.50,456.20 456.50,458.60" fill="#231f20"/><line x1="455.80" y1="475.20" x2="459.20" y2="475.20" stroke="#231f20" stroke-width="1"/><polygon points="454.60,475.20 456.50,474.00 456.50,476.40" fill="#231f20"/><line x1="455.80" y1="491.30" x2="459.20" y2="491.30" stroke="#231f20" stroke-width="1"/><polygon points="454.60,491.30 456.50,490.10 456.50,492.50" fill="#231f20"/><line x1="455.80" y1="510.00" x2="459.20" y2="510.00" stroke="#231f20" stroke-width="1"/><polygon points="454.60,510.00 456.50,508.80 456.50,511.20" fill="#231f20"/><line x1="455.80" y1="525.80" x2="459.20" y2="525.80" stroke="#231f20" stroke-width="1"/><polygon points="454.60,525.80 456.50,524.60 456.50,527.00" fill="#231f20"/></svg>
<svg class="b" style="left:0;top:0" width="520" height="716" viewBox="0 0 520 716"><line x1="409.30" y1="31.80" x2="413.10" y2="31.80" stroke="#3a3637" stroke-width="0.8"/><line x1="422.40" y1="31.80" x2="425.60" y2="31.80" stroke="#3a3637" stroke-width="0.8"/><line x1="424.00" y1="30.20" x2="424.00" y2="33.40" stroke="#3a3637" stroke-width="0.8"/><line x1="435.10" y1="31.80" x2="438.90" y2="31.80" stroke="#3a3637" stroke-width="0.8"/><line x1="449.20" y1="31.80" x2="452.40" y2="31.80" stroke="#3a3637" stroke-width="0.8"/><line x1="450.80" y1="30.20" x2="450.80" y2="33.40" stroke="#3a3637" stroke-width="0.8"/><line x1="409.30" y1="38.90" x2="413.10" y2="38.90" stroke="#3a3637" stroke-width="0.8"/><line x1="422.10" y1="38.90" x2="425.90" y2="38.90" stroke="#3a3637" stroke-width="0.8"/><line x1="435.40" y1="38.90" x2="438.60" y2="38.90" stroke="#3a3637" stroke-width="0.8"/><line x1="437.00" y1="37.30" x2="437.00" y2="40.50" stroke="#3a3637" stroke-width="0.8"/><line x1="449.20" y1="38.90" x2="452.40" y2="38.90" stroke="#3a3637" stroke-width="0.8"/><line x1="450.80" y1="37.30" x2="450.80" y2="40.50" stroke="#3a3637" stroke-width="0.8"/><line x1="407.70" y1="389.60" x2="411.50" y2="389.60" stroke="#3a3637" stroke-width="0.8"/><line x1="420.10" y1="389.60" x2="423.30" y2="389.60" stroke="#3a3637" stroke-width="0.8"/><line x1="421.70" y1="388.00" x2="421.70" y2="391.20" stroke="#3a3637" stroke-width="0.8"/><line x1="432.10" y1="389.60" x2="435.90" y2="389.60" stroke="#3a3637" stroke-width="0.8"/><line x1="445.10" y1="389.60" x2="448.30" y2="389.60" stroke="#3a3637" stroke-width="0.8"/><line x1="446.70" y1="388.00" x2="446.70" y2="391.20" stroke="#3a3637" stroke-width="0.8"/><line x1="407.70" y1="398.00" x2="411.50" y2="398.00" stroke="#3a3637" stroke-width="0.8"/><line x1="419.80" y1="398.00" x2="423.60" y2="398.00" stroke="#3a3637" stroke-width="0.8"/><line x1="432.40" y1="398.00" x2="435.60" y2="398.00" stroke="#3a3637" stroke-width="0.8"/><line x1="434.00" y1="396.40" x2="434.00" y2="399.60" stroke="#3a3637" stroke-width="0.8"/><line x1="445.10" y1="398.00" x2="448.30" y2="398.00" stroke="#3a3637" stroke-width="0.8"/><line x1="446.70" y1="396.40" x2="446.70" y2="399.60" stroke="#3a3637" stroke-width="0.8"/></svg>
<div id="frame"></div>
</body></html>
